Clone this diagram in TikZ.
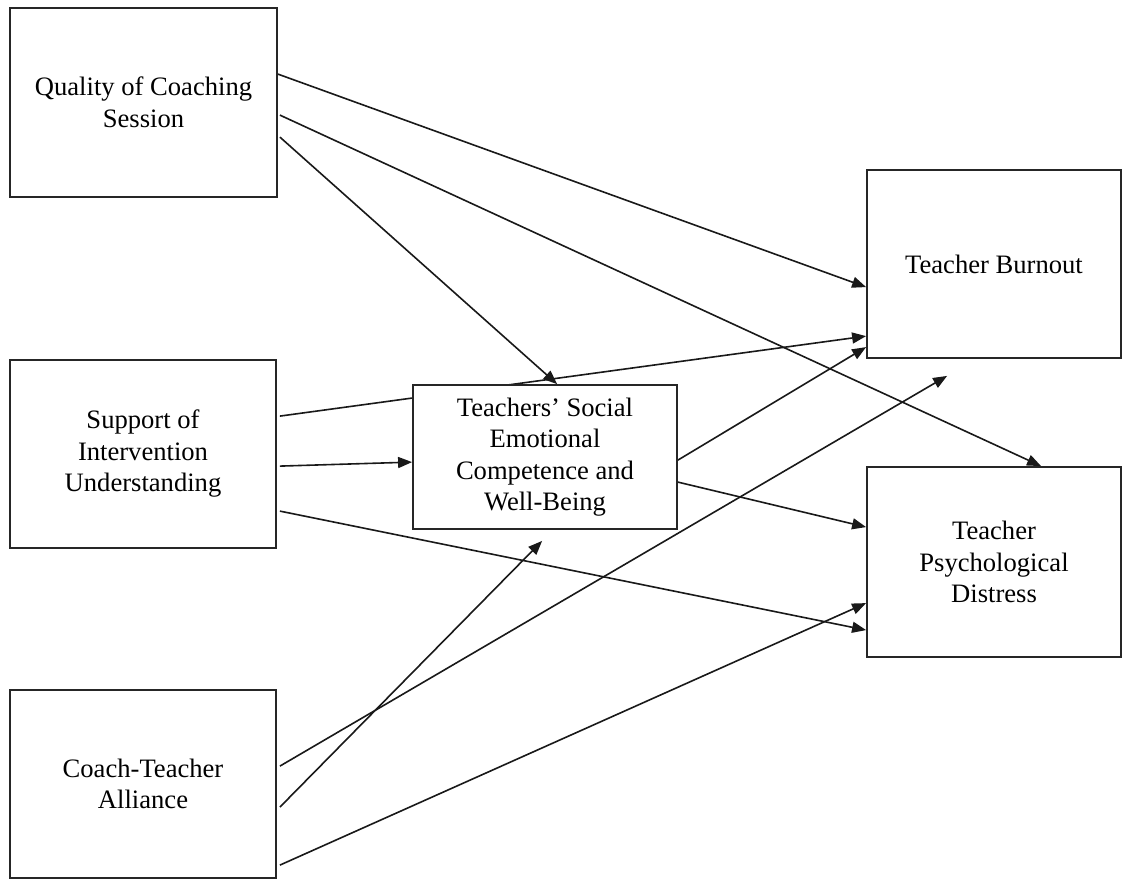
\documentclass[tikz,border=0pt]{standalone}
\usepackage{fontspec}
\setmainfont{Liberation Serif}
\usetikzlibrary{arrows.meta,backgrounds}
\begin{document}
\begin{tikzpicture}[x=1pt,y=-1pt,
  box/.style={draw=black!85,line width=1.8pt,fill=white,align=center,inner sep=0pt,
    font=\fontsize{26.6}{31.5}\selectfont},
  link/.style={draw=black!90,line width=1.6pt,-{Triangle[length=14pt,width=11pt]}}]
\useasboundingbox (0,0) rectangle (1126,880);
\node[box,minimum width=267pt,minimum height=189pt] (q) at (143.5,102.5) {Quality of Coaching\\Session};
\node[box,minimum width=266pt,minimum height=188pt] (s) at (143,454) {Support of\\Intervention\\Understanding};
\node[box,minimum width=266pt,minimum height=188pt] (c) at (143,784) {Coach-Teacher\\Alliance};
\node[box,minimum width=264pt,minimum height=144pt] (e) at (545,457) {Teachers’ Social\\Emotional\\Competence and\\Well-Being};
\node[box,minimum width=254pt,minimum height=188pt] (b) at (994,264) {Teacher Burnout};
\node[box,minimum width=254pt,minimum height=190pt] (d) at (994,562) {Teacher\\Psychological\\Distress};
\coordinate (t9) at ([xshift=81pt,yshift=-17pt]b.south west);
\coordinate (t10) at ([xshift=130pt,yshift=-11pt]e.south west);
\begin{scope}[on background layer]
\fill[white] (0,0) rectangle (1126,880);
\draw[link] ([yshift=-67pt]q.north east) -- ([yshift=-118pt]b.north west);
\draw[link] ([xshift=2pt,yshift=-108pt]q.north east) -- ([xshift=175pt]d.north west);
\draw[link] ([xshift=2pt,yshift=-130pt]q.north east) -- ([xshift=145pt]e.north west);
\draw[link] ([xshift=3pt,yshift=-57pt]s.north east) -- ([yshift=-167pt]b.north west);
\draw[link] ([xshift=3pt,yshift=-107pt]s.north east) -- ([yshift=-78pt]e.north west);
\draw[link] ([xshift=3pt,yshift=-152pt]s.north east) -- ([yshift=-164pt]d.north west);
\draw[link] ([yshift=-76pt]e.north east) -- ([yshift=-178pt]b.north west);
\draw[link] ([yshift=-98pt]e.north east) -- ([yshift=-61pt]d.north west);
\draw[link] ([xshift=3pt,yshift=-77pt]c.north east) -- (t9);
\draw[link] ([xshift=3pt,yshift=-118pt]c.north east) -- (t10);
\draw[link] ([xshift=3pt,yshift=-176pt]c.north east) -- ([yshift=-137pt]d.north west);
\end{scope}
\end{tikzpicture}
\end{document}
